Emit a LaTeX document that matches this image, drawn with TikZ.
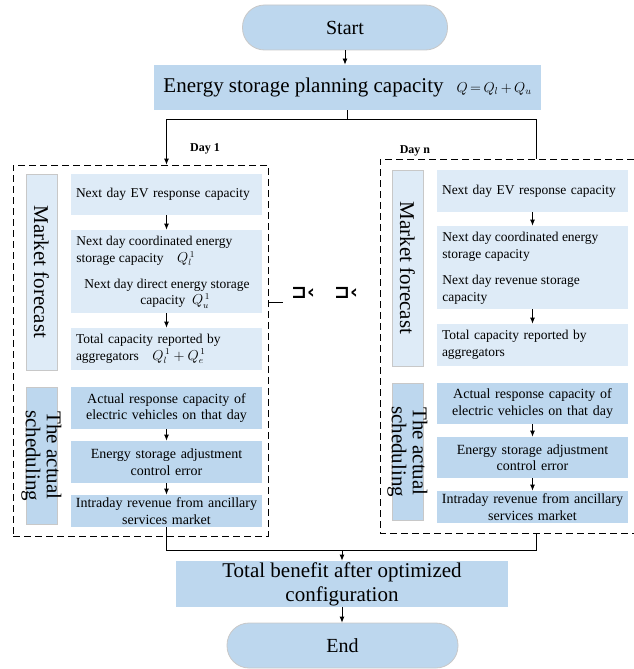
\documentclass[tikz,border=0pt]{standalone}
\usepackage{fontspec}
\setmainfont{Liberation Serif}
\newfontfamily\symfont{DejaVu Sans}
\usetikzlibrary{arrows.meta}

\definecolor{boxblue}{HTML}{BDD7EE}
\definecolor{paleblue}{HTML}{DEEBF7}
\definecolor{rimgray}{HTML}{C8C8C8}

\tikzset{
  terminal/.style={draw=rimgray, fill=boxblue, rounded corners=22pt, inner sep=0pt,
    minimum height=45pt, font=\fontsize{20}{24}\selectfont},
  bigbox/.style={fill=boxblue, inner sep=0pt, align=center, font=\fontsize{21}{24}\selectfont},
  forecast/.style={fill=paleblue, minimum width=191pt, inner xsep=5pt, inner ysep=0pt,
    text width=181pt, align=left, font=\fontsize{13.5}{16.5}\selectfont},
  innertext/.style={inner sep=0pt, align=left, font=\fontsize{13.5}{16.5}\selectfont},
  actual/.style={fill=boxblue, minimum width=191pt, inner xsep=3pt, inner ysep=0pt,
    text width=185pt, align=center, font=\fontsize{14}{16.5}\selectfont},
  sidebox/.style={draw=rimgray, line width=0.6pt, minimum width=31pt, inner sep=0pt},
  sidetext/.style={rotate=-90, align=center, inner sep=0pt, font=\fontsize{21}{21}\selectfont},
  daylabel/.style={font=\bfseries\fontsize{12}{14}\selectfont, inner sep=0pt},
  dashbox/.style={draw, dash pattern=on 7pt off 4pt, line width=0.8pt},
  etc/.style={font=\symfont\bfseries\fontsize{19}{19}\selectfont, inner sep=0pt},
  arr/.style={-{Latex[length=6pt,width=5pt]}},
}

\begin{document}
\begin{tikzpicture}[x=1pt, y=-1pt, line width=0.8pt]
  \useasboundingbox (0,0) rectangle (633,669);

  % top part
  \node[terminal, minimum width=205pt] (start) at (345,27.5) {Start};
  \node[bigbox, minimum width=387pt, minimum height=45pt] (plan) at (347.5,87.5)
    {Energy storage planning capacity\hspace{13pt}{\fontsize{14}{16}\selectfont$Q\,{=}\,Q_l\,{+}\,Q_u$}};
  \draw[arr] (start.south) -- (start.south |- plan.north);

  \node[daylabel] (day1) at (205,149) {Day 1};
  \node[daylabel] (dayn) at (415,151) {Day n};

  % day 1
  \node[dashbox, minimum width=255pt, minimum height=371pt, inner sep=0pt] (day1box) at (140.5,350.5) {};
  \node[sidebox, fill=paleblue, minimum height=196pt] (mf1) at (41.5,272) {};
  \node[sidetext] at (mf1) {Market forecast};
  \node[forecast, minimum height=41pt] (a1) at (166.5,194.5) {Next day EV response capacity};
  \node[forecast, minimum height=83pt] (b1) at (166.5,271.5) {};
  \node[innertext, anchor=north west] (b1top) at (76,236)
    {Next day coordinated energy\\storage capacity\quad $Q_l^{\,1}$};
  \node[innertext, align=center] (b1bot) at (167,293.5)
    {Next day direct energy storage\\\hspace*{1.2em}capacity\ \ $Q_u^{\,1}$};
  \node[forecast, minimum height=42pt] (c1) at (166.5,349)
    {Total capacity reported by\\aggregators\quad $Q_l^{\,1}+Q_e^{\,1}$};
  \node[sidebox, fill=boxblue, minimum height=137pt] (as1) at (41.5,455.5) {};
  \node[sidetext] at (as1) {The actual\\scheduling};
  \node[actual, minimum height=42pt] (d1) at (166.5,408) {Actual response capacity of\\electric vehicles on that day};
  \node[actual, minimum height=42pt] (e1) at (166.5,462) {Energy storage adjustment\\control error};
  \node[actual, minimum height=32pt] (f1) at (166.5,511) {Intraday revenue from ancillary\\services market};
  \draw[arr] (a1) -- (b1);
  \draw[arr] (b1) -- (c1);
  \draw[arr] (d1) -- (e1);
  \draw[arr] (e1) -- (f1);

  % between the days
  \coordinate (stub) at (268,302);
  \draw[line width=0.6pt] (stub) -- ++(15,0);
  \node[etc] (dots1) at (303,293) {⊐‹};
  \node[etc] (dots2) at (346,293) {⊐‹};

  % day n
  \coordinate (dayntop) at (536,159);
  \coordinate (daynbot) at (536,533);
  \draw[dashbox] (634,159) -- (380,159) -- (380,533) -- (634,533);
  \node[sidebox, fill=paleblue, minimum height=196pt] (mf2) at (407.5,268) {};
  \node[sidetext] at (mf2) {Market forecast};
  \node[forecast, minimum height=42pt] (a2) at (532.5,191) {Next day EV response capacity};
  \node[forecast, minimum height=83pt] (b2) at (532.5,267.5) {};
  \node[innertext, anchor=north west] (b2top) at (442,232)
    {Next day coordinated energy\\storage capacity};
  \node[innertext, anchor=north west] (b2bot) at (442,275)
    {Next day revenue storage\\capacity};
  \node[forecast, minimum height=42pt] (c2) at (532.5,345)
    {Total capacity reported by\\aggregators};
  \node[sidebox, fill=boxblue, minimum height=137pt] (as2) at (407.5,451.5) {};
  \node[sidetext] at (as2) {The actual\\scheduling};
  \node[actual, minimum height=41pt] (d2) at (532.5,403.5) {Actual response capacity of\\electric vehicles on that day};
  \node[actual, minimum height=41pt] (e2) at (532.5,457.5) {Energy storage adjustment\\control error};
  \node[actual, minimum height=32pt] (f2) at (532.5,507) {Intraday revenue from ancillary\\services market};
  \draw[arr] (a2) -- (b2);
  \draw[arr] (b2) -- (c2);
  \draw[arr] (d2) -- (e2);
  \draw[arr] (e2) -- (f2);

  % split to the days
  \path (plan.south) ++(0,9) coordinate (split);
  \draw (plan.south) -- (split);
  \draw[arr] (split) -| (a1.north |- day1box.north);
  \draw (split) -| (dayntop);

  % bottom part
  \node[bigbox, minimum width=332pt, minimum height=46pt] (total) at (342,584)
    {Total benefit after optimized\\configuration};
  \node[terminal, minimum width=231pt] (end) at (342.5,645.5) {End};
  \coordinate (merge) at (342,550);
  \draw (f1.south) |- (daynbot |- merge) -- (daynbot);
  \draw[arr] (merge) -- (total.north);
  \draw[arr] (total.south) -- (total.south |- end.north);
\end{tikzpicture}
\end{document}
